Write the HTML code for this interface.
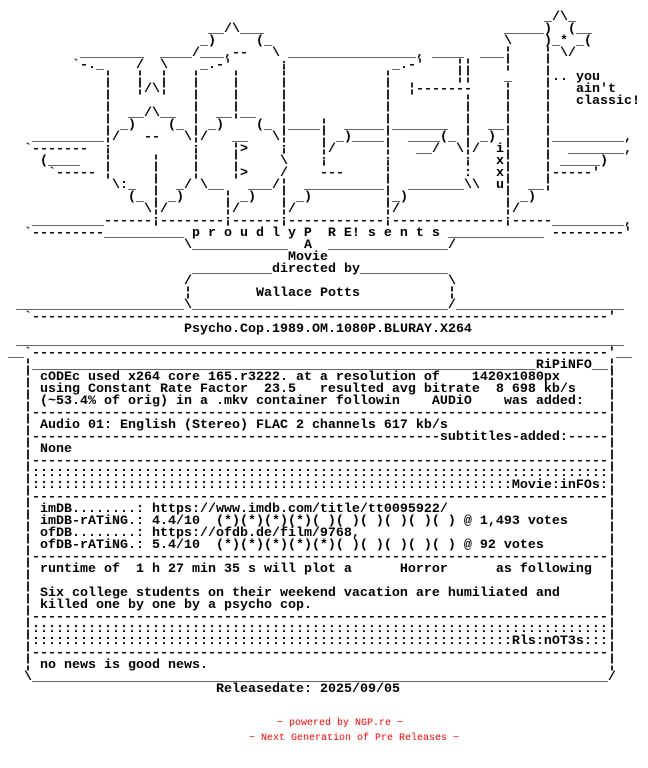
<!DOCTYPE html>
<html><head><meta charset="utf-8"><style>
html{margin:0;padding:0;background:#fff;}
body{margin:0;padding:0;background:#fff;width:648px;height:766px;position:relative;top:2px;overflow:hidden;}
i{position:absolute;font-style:normal;white-space:pre;font:bold 13.33px "Liberation Mono",monospace;line-height:12px;color:#000;}
.red{position:absolute;white-space:pre;font:10px "Liberation Mono",monospace;color:#f00;line-height:12px;}
</style></head><body>
<i style="left:544px;top:10px">_/\_</i>
<i style="left:208px;top:22px">__/\___</i><i style="left:504px;top:22px">_____)  (__</i>
<i style="left:200px;top:34px">_)</i><i style="left:256px;top:34px">(_</i><i style="left:504px;top:34px">\</i><i style="left:544px;top:34px">)_* _(</i>
<i style="left:80px;top:46px">________</i><i style="left:160px;top:46px">____/___,--</i><i style="left:272px;top:46px">\</i><i style="left:288px;top:46px">________________,</i><i style="left:432px;top:46px">____</i><i style="left:480px;top:46px">___¦    ¦ \/</i>
<i style="left:72px;top:58px">`-._</i><i style="left:136px;top:58px">/  \</i><i style="left:200px;top:58px">_.-'</i><i style="left:280px;top:58px">¡</i><i style="left:392px;top:58px">_.-'</i><i style="left:456px;top:58px">¦¦</i><i style="left:504px;top:58px">¦    ¦</i>
<i style="left:104px;top:70px">¦</i><i style="left:136px;top:70px">¦  ¦</i><i style="left:192px;top:70px">¦</i><i style="left:232px;top:70px">¦</i><i style="left:280px;top:70px">¦</i><i style="left:384px;top:70px">¦</i><i style="left:456px;top:70px">¦¦</i><i style="left:504px;top:70px">_    ¦.. you</i>
<i style="left:104px;top:82px">¦</i><i style="left:136px;top:82px">¦/\¦</i><i style="left:192px;top:82px">¦</i><i style="left:232px;top:82px">¦</i><i style="left:280px;top:82px">¦</i><i style="left:384px;top:82px">¦</i><i style="left:408px;top:82px">¦-------</i><i style="left:504px;top:82px">¦    ¦   ain't</i>
<i style="left:104px;top:94px">¦</i><i style="left:192px;top:94px">¦</i><i style="left:232px;top:94px">¦</i><i style="left:280px;top:94px">¦</i><i style="left:384px;top:94px">¦</i><i style="left:464px;top:94px">¦</i><i style="left:504px;top:94px">¦    ¦   classic!</i>
<i style="left:104px;top:106px">¦</i><i style="left:128px;top:106px">__/\__</i><i style="left:192px;top:106px">¦</i><i style="left:216px;top:106px">__¦__</i><i style="left:280px;top:106px">¦</i><i style="left:384px;top:106px">¦</i><i style="left:464px;top:106px">¦</i><i style="left:504px;top:106px">¦    ¦</i>
<i style="left:104px;top:118px">¦ _)</i><i style="left:168px;top:118px">(_ ¦ _)</i><i style="left:256px;top:118px">(_ ¦____¦</i><i style="left:344px;top:118px">_____¦_______</i><i style="left:464px;top:118px">¦  __¦    ¦</i>
<i style="left:32px;top:130px">_________¦/</i><i style="left:144px;top:130px">--</i><i style="left:184px;top:130px">\¦/</i><i style="left:232px;top:130px">__</i><i style="left:272px;top:130px">\¦</i><i style="left:320px;top:130px">¦ _)____¦</i><i style="left:408px;top:130px">____(_ ¦ _) ¦    ¦_________,</i>
<i style="left:24px;top:142px">`-------</i><i style="left:104px;top:142px">¡</i><i style="left:192px;top:142px">¡</i><i style="left:232px;top:142px">¦&gt;</i><i style="left:280px;top:142px">¡</i><i style="left:320px;top:142px">¦/</i><i style="left:384px;top:142px">¦</i><i style="left:416px;top:142px">__/  \¦/  i¦    ¦  _______,</i>
<i style="left:40px;top:154px">(____</i><i style="left:104px;top:154px">¦</i><i style="left:152px;top:154px">¦</i><i style="left:192px;top:154px">¦</i><i style="left:232px;top:154px">¦</i><i style="left:280px;top:154px">\</i><i style="left:320px;top:154px">¡</i><i style="left:384px;top:154px">¡</i><i style="left:464px;top:154px">¡   x¦    ¦ _____)</i>
<i style="left:48px;top:166px">`-----</i><i style="left:104px;top:166px">¦</i><i style="left:152px;top:166px">¦</i><i style="left:192px;top:166px">¦</i><i style="left:232px;top:166px">¦&gt;</i><i style="left:280px;top:166px">/</i><i style="left:320px;top:166px">---</i><i style="left:384px;top:166px">¦</i><i style="left:464px;top:166px">:   x¦    ¦-----'</i>
<i style="left:112px;top:178px">\:_</i><i style="left:152px;top:178px">¦</i><i style="left:176px;top:178px">_/ \__</i><i style="left:248px;top:178px">___/¦</i><i style="left:304px;top:178px">__________¦</i><i style="left:408px;top:178px">_______\\  u¦  __¦</i>
<i style="left:128px;top:190px">(_ ¦ _)</i><i style="left:224px;top:190px">¦ _)</i><i style="left:280px;top:190px">¦ _)</i><i style="left:384px;top:190px">¦_)</i><i style="left:504px;top:190px">¦ _)</i>
<i style="left:144px;top:202px">\¦/</i><i style="left:224px;top:202px">¦/</i><i style="left:280px;top:202px">¦/</i><i style="left:384px;top:202px">¦/</i><i style="left:504px;top:202px">¦/</i>
<i style="left:32px;top:214px">_________------¡--------¡------¡------------¡--------------¡-----_________,</i>
<i style="left:24px;top:226px">`---------__________ p r o u d l y P  R E! s e n t s ____________ ---------'</i>
<i style="left:184px;top:238px">\____________  A  _______________/</i>
<i style="left:288px;top:250px">Movie</i>
<i style="left:192px;top:262px">__________directed by___________</i>
<i style="left:184px;top:274px">/</i><i style="left:448px;top:274px">\</i>
<i style="left:184px;top:286px">¦</i><i style="left:256px;top:286px">Wallace Potts</i><i style="left:448px;top:286px">¦</i>
<i style="left:16px;top:298px">_____________________\________________________________/_____________________</i>
<i style="left:24px;top:310px">`------------------------------------------------------------------------'</i>
<i style="left:184px;top:322px">Psycho.Cop.1989.OM.1080P.BLURAY.X264</i>
<i style="left:16px;top:334px">____________________________________________________________________________</i>
<i style="left:8px;top:346px">__`------------------------------------------------------------------------'__</i>
<i style="left:24px;top:358px">¦_______________________________________________________________RiPiNFO__¦</i>
<i style="left:24px;top:370px">¦
¦
¦
¦
¦
¦
¦
¦
¦
¦
¦
¦
¦
¦
¦
¦
¦
¦
¦
¦
¦
¦
¦
¦
¦</i>
<i style="left:608px;top:370px">¦
¦
¦
¦
¦
¦
¦
¦
¦
¦
¦
¦
¦
¦
¦
¦
¦
¦
¦
¦
¦
¦
¦
¦
¦</i>
<i style="left:40px;top:370px">cODEc used x264 core 165.r3222. at a resolution of    1420x1080px</i>
<i style="left:40px;top:382px">using Constant Rate Factor  23.5   resulted avg bitrate  8 698 kb/s</i>
<i style="left:40px;top:394px">(~53.4% of orig) in a .mkv container followin    AUDiO    was added:</i>
<i style="left:32px;top:406px">------------------------------------------------------------------------</i>
<i style="left:40px;top:418px">Audio 01: English (Stereo) FLAC 2 channels 617 kb/s</i>
<i style="left:32px;top:430px">---------------------------------------------------subtitles-added:-----</i>
<i style="left:40px;top:442px">None</i>
<i style="left:32px;top:454px">------------------------------------------------------------------------</i>
<i style="left:32px;top:466px">::::::::::::::::::::::::::::::::::::::::::::::::::::::::::::::::::::::::</i>
<i style="left:32px;top:478px">::::::::::::::::::::::::::::::::::::::::::::::::::::::::::::Movie:inFOs:</i>
<i style="left:32px;top:490px">------------------------------------------------------------------------</i>
<i style="left:40px;top:502px">imDB........: https://www.imdb.com/title/tt0095922/</i>
<i style="left:40px;top:514px">imDB-rATiNG.: 4.4/10  (*)(*)(*)(*)( )( )( )( )( )( ) @ 1,493 votes</i>
<i style="left:40px;top:526px">ofDB........: https://ofdb.de/film/9768,</i>
<i style="left:40px;top:538px">ofDB-rATiNG.: 5.4/10  (*)(*)(*)(*)(*)( )( )( )( )( ) @ 92 votes</i>
<i style="left:32px;top:550px">------------------------------------------------------------------------</i>
<i style="left:40px;top:562px">runtime of  1 h 27 min 35 s will plot a      Horror      as following</i>
<i style="left:40px;top:586px">Six college students on their weekend vacation are humiliated and</i>
<i style="left:40px;top:598px">killed one by one by a psycho cop.</i>
<i style="left:32px;top:610px">------------------------------------------------------------------------</i>
<i style="left:32px;top:622px">::::::::::::::::::::::::::::::::::::::::::::::::::::::::::::::::::::::::</i>
<i style="left:32px;top:634px">::::::::::::::::::::::::::::::::::::::::::::::::::::::::::::Rls:nOT3s:::</i>
<i style="left:32px;top:646px">------------------------------------------------------------------------</i>
<i style="left:40px;top:658px">no news is good news.</i>
<i style="left:24px;top:670px">\________________________________________________________________________/</i>
<i style="left:216px;top:682px">Releasedate: 2025/09/05</i>
<div class="red" style="left:277px;top:716px">~ powered by NGP.re ~</div>
<div class="red" style="left:249px;top:731px">~ Next Generation of Pre Releases ~</div>
</body></html>
